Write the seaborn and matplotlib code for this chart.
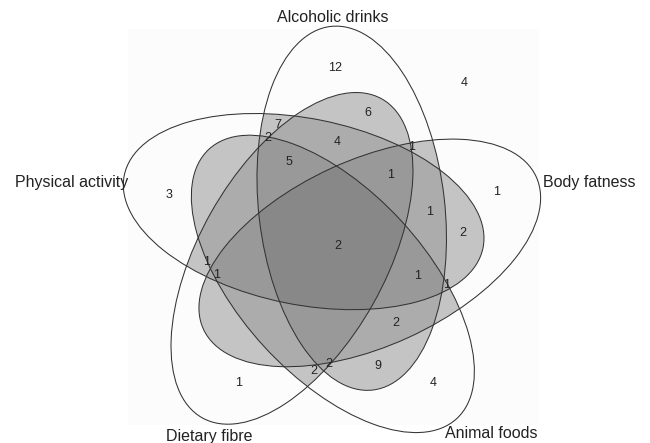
import numpy as np
import matplotlib
matplotlib.use("Agg")
import matplotlib.pyplot as plt
from matplotlib.patches import Ellipse, Rectangle
import seaborn as sns

sns.set_style("white")
plt.rcParams['font.family'] = ['Liberation Sans', 'DejaVu Sans']

# set names, in the order their ellipses are rotated (72 degrees apart)
sets = ["Alcoholic drinks", "Physical activity", "Dietary fibre", "Animal foods", "Body fatness"]
label_xy = [(333, 17), (128, 183), (209, 437), (491, 433), (543, 183)]
label_ha = ["center", "right", "center", "center", "left"]

# region counts and where they sit in the picture
counts = [12, 4, 6, 7, 2, 4, 1, 5, 1, 3, 1, 1, 2, 2, 1, 1, 1, 1, 2, 2, 2, 9, 1, 4]
count_xy = [(335, 68), (464, 83), (368, 113), (278, 125), (268, 138), (337, 142),
            (412, 147), (289, 162), (391, 175), (169, 195), (497, 192), (430, 212),
            (338, 246), (463, 233), (207, 262), (217, 275), (418, 276), (447, 285),
            (396, 323), (314, 371), (329, 364), (378, 366), (239, 383), (433, 383)]

# shading by number of overlapping sets (0..5)
shade = ["#ffffff", "#ffffff", "#c4c4c4", "#acacac", "#9a9a9a", "#888888"]

# ellipse geometry (pixel units)
cx, cy = 330, 243
dist = 41
a, b = 183, 93
rot0 = 96.6
off0 = 58

ell = []
for k in range(5):
    th = np.deg2rad(rot0 + 72 * k)
    ph = np.deg2rad(off0 + 72 * k)
    ex = cx + dist * np.cos(ph)
    ey = cy - dist * np.sin(ph)
    ell.append((ex, ey, th))

fig = plt.figure(figsize=(6.5, 4.43), dpi=100)
ax = fig.add_axes([0, 0, 1, 1])
ax.set_xlim(0, 650)
ax.set_ylim(443, 0)
ax.set_aspect("equal")
ax.axis("off")

ax.add_patch(Rectangle((128, 29), 411, 396, facecolor="#fcfcfc", edgecolor="none", zorder=0))

# count grid
xs = np.linspace(0, 650, 1300)
ys = np.linspace(0, 443, 886)
X, Y = np.meshgrid(xs, ys)
cnt = np.zeros_like(X, dtype=int)
for ex, ey, th in ell:
    dx = X - ex
    dy = -(Y - ey)
    u = dx * np.cos(th) + dy * np.sin(th)
    v = -dx * np.sin(th) + dy * np.cos(th)
    cnt += ((u / a) ** 2 + (v / b) ** 2 <= 1).astype(int)

rgb = np.array([matplotlib.colors.to_rgba(c) for c in shade])
img = rgb[cnt]
img[cnt <= 1, 3] = 0
ax.imshow(img, extent=(0, 650, 443, 0), interpolation="antialiased", zorder=1)

for ex, ey, th in ell:
    ax.add_patch(Ellipse((ex, ey), 2 * a, 2 * b, angle=-np.rad2deg(th),
                         fill=False, edgecolor="#333333", linewidth=0.75, zorder=2))

for n, (x, y) in zip(counts, count_xy):
    ax.text(x, y, str(n), ha="center", va="center", fontsize=9, color="#222222", zorder=3)

for s, (x, y), ha in zip(sets, label_xy, label_ha):
    ax.text(x, y, s, ha=ha, va="center", fontsize=11.5, color="#222222", zorder=3)

fig.savefig("out.png", dpi=100)
